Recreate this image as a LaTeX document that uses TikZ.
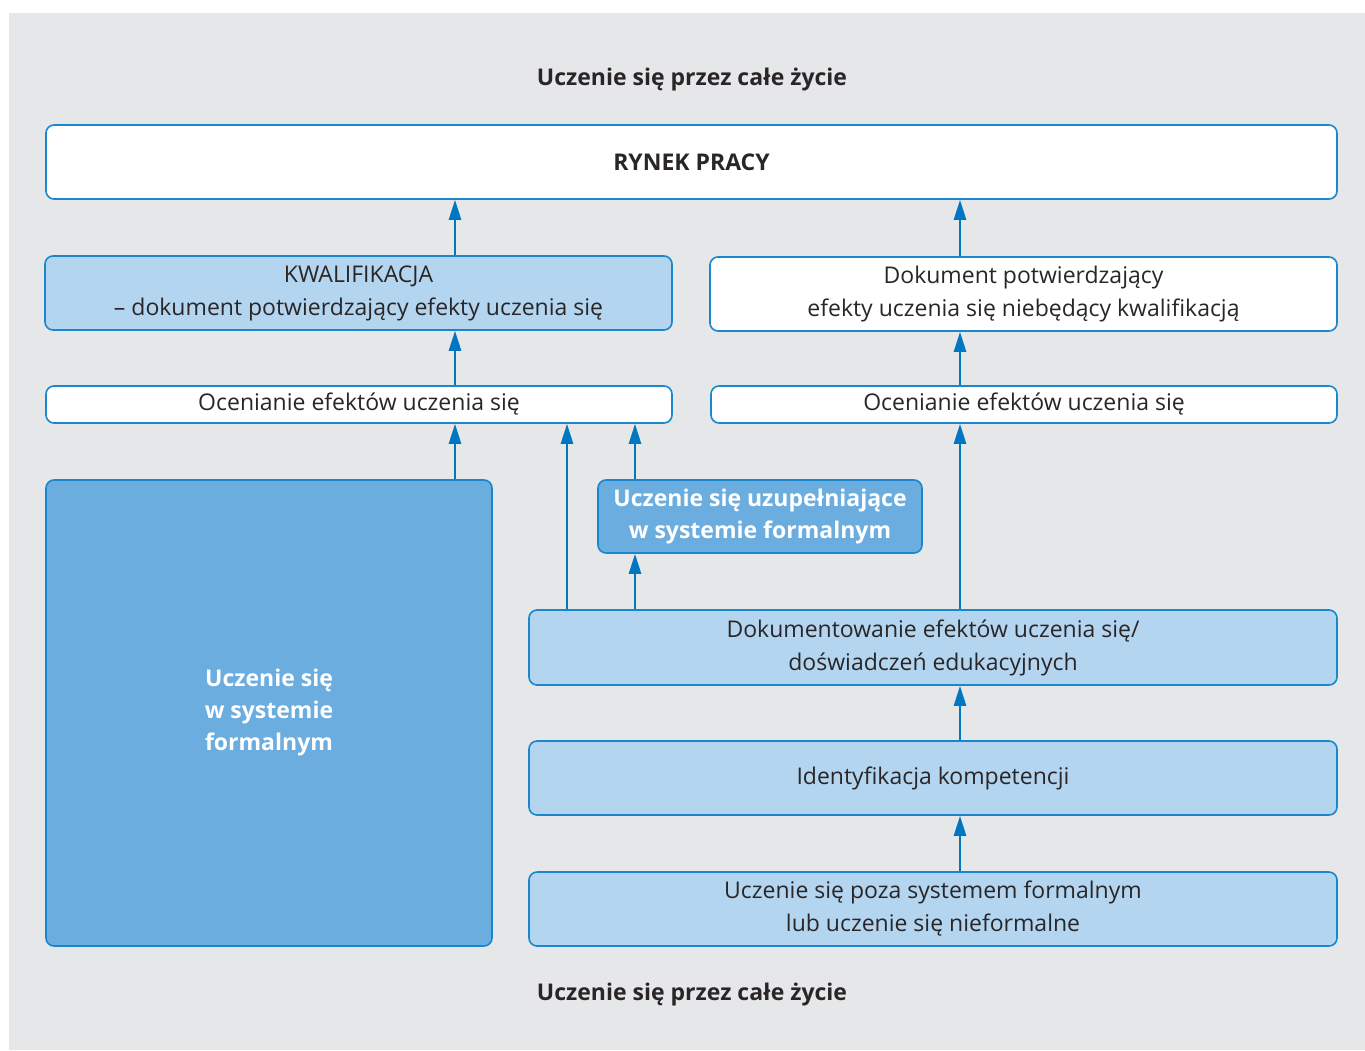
\documentclass[tikz,border=0pt]{standalone}
\usepackage{fontspec}
\setmainfont{Open Sans}
\usetikzlibrary{arrows.meta}
\definecolor{bggray}{HTML}{E6E7E9}
\definecolor{lblue}{HTML}{B3D5F0}
\definecolor{mblue}{HTML}{6CADDF}
\definecolor{bord}{HTML}{1A87CC}
\definecolor{arrc}{HTML}{0077C0}
\definecolor{txt}{HTML}{2A2627}
\tikzset{
  box/.style={draw=bord, line width=1.6pt, rounded corners=8pt, inner sep=0pt, align=center, text=txt, font=\fontsize{23}{33}\selectfont},
  wbox/.style={box, fill=white},
  lbox/.style={box, fill=lblue},
  mbox/.style={box, fill=mblue, text=white, font=\bfseries\fontsize{23}{32}\selectfont},
  arr/.style={draw=arrc, line width=2.6pt, -{Triangle[length=20pt,width=12pt]}},
  ttl/.style={text=txt, font=\bfseries\fontsize{23}{28}\selectfont}
}
\begin{document}
\begin{tikzpicture}[x=1pt,y=1pt]
\useasboundingbox (0,0) rectangle (1365,-1050);
\fill[bggray] (9,-13) rectangle (1365,-1050);
\node[ttl] (t1) at (692,-80) {Uczenie się przez całe życie};
\node[ttl] (t2) at (692,-995) {Uczenie się przez całe życie};
\node[wbox, minimum width=1291pt, minimum height=74pt, font=\bfseries\fontsize{23}{28}\selectfont] (rynek) at (691.5,-162) {RYNEK PRACY};
\node[lbox, minimum width=627pt, minimum height=74pt] (kw) at (358.5,-293) {KWALIFIKACJA\\– dokument potwierdzający efekty uczenia się};
\node[wbox, minimum width=627pt, minimum height=74pt] (dok) at (1023.5,-294) {Dokument potwierdzający\\efekty uczenia się niebędący kwalifikacją};
\node[wbox, minimum width=626pt, minimum height=37pt] (ocl) at (359,-404.5) {Ocenianie efektów uczenia się};
\node[wbox, minimum width=626pt, minimum height=37pt] (ocr) at (1024,-404.5) {Ocenianie efektów uczenia się};
\node[mbox, minimum width=446pt, minimum height=466pt] (formal) at (269,-713) {Uczenie się\\w systemie\\formalnym};
\node[mbox, minimum width=324pt, minimum height=73pt] (uzup) at (760,-516.5) {Uczenie się uzupełniające\\w systemie formalnym};
\node[lbox, minimum width=808pt, minimum height=75pt] (dokum) at (933,-647.5) {Dokumentowanie efektów uczenia się/\\doświadczeń edukacyjnych};
\node[lbox, minimum width=808pt, minimum height=74pt] (ident) at (933,-778) {Identyfikacja kompetencji};
\node[lbox, minimum width=808pt, minimum height=74pt] (poza) at (933,-909) {Uczenie się poza systemem formalnym\\lub uczenie się nieformalne};
\coordinate (xa) at (455,0);
\coordinate (xb) at (567,0);
\coordinate (xc) at (635,0);
\coordinate (xd) at (960,0);
\draw[arr] (kw.north -| xa) -- (rynek.south -| xa);
\draw[arr] (dok.north -| xd) -- (rynek.south -| xd);
\draw[arr] (ocl.north -| xa) -- (kw.south -| xa);
\draw[arr] (ocr.north -| xd) -- (dok.south -| xd);
\draw[arr] (formal.north -| xa) -- (ocl.south -| xa);
\draw[arr] (dokum.north -| xb) -- (ocl.south -| xb);
\draw[arr] (uzup.north -| xc) -- (ocl.south -| xc);
\draw[arr] (dokum.north -| xc) -- (uzup.south -| xc);
\draw[arr] (dokum.north -| xd) -- (ocr.south -| xd);
\draw[arr] (ident.north -| xd) -- (dokum.south -| xd);
\draw[arr] (poza.north -| xd) -- (ident.south -| xd);
\end{tikzpicture}
\end{document}
